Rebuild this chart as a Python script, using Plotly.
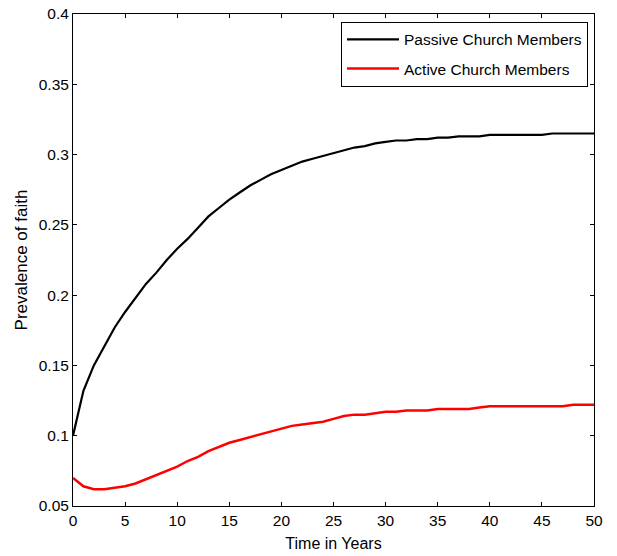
import plotly.graph_objects as go

# Simulation output, sampled once per year
years = list(range(0, 51))

passive_members = [
    0.100, 0.132, 0.150, 0.164, 0.177, 0.188, 0.198, 0.208, 0.216, 0.225,
    0.233, 0.240, 0.248, 0.256, 0.262, 0.268, 0.273, 0.278, 0.282, 0.286,
    0.289, 0.292, 0.295, 0.297, 0.299, 0.301, 0.303, 0.305, 0.306, 0.308,
    0.309, 0.310, 0.310, 0.311, 0.311, 0.312, 0.312, 0.313, 0.313, 0.313,
    0.314, 0.314, 0.314, 0.314, 0.314, 0.314, 0.315, 0.315, 0.315, 0.315,
    0.315,
]

active_members = [
    0.070, 0.064, 0.062, 0.062, 0.063, 0.064, 0.066, 0.069, 0.072, 0.075,
    0.078, 0.082, 0.085, 0.089, 0.092, 0.095, 0.097, 0.099, 0.101, 0.103,
    0.105, 0.107, 0.108, 0.109, 0.110, 0.112, 0.114, 0.115, 0.115, 0.116,
    0.117, 0.117, 0.118, 0.118, 0.118, 0.119, 0.119, 0.119, 0.119, 0.120,
    0.121, 0.121, 0.121, 0.121, 0.121, 0.121, 0.121, 0.121, 0.122, 0.122,
    0.122,
]

x_ticks = [0, 5, 10, 15, 20, 25, 30, 35, 40, 45, 50]
y_ticks = [0.05, 0.1, 0.15, 0.2, 0.25, 0.3, 0.35, 0.4]

FONT = "Arial, Liberation Sans, sans-serif"

fig = go.Figure()
fig.add_trace(go.Scatter(
    x=years, y=passive_members, mode="lines", name="Passive Church Members",
    line=dict(color="black", width=2.2), legendgroup="p",
))
fig.add_trace(go.Scatter(
    x=years, y=active_members, mode="lines", name="Active Church Members",
    line=dict(color="red", width=2.5), legendgroup="a",
))

axis_common = dict(
    showline=True, linecolor="black", linewidth=1, mirror="ticks",
    ticks="inside", ticklen=4, tickcolor="black", tickwidth=1,
    showgrid=False, zeroline=False, automargin=False,
    tickfont=dict(family=FONT, size=15.5, color="black"),
)

fig.update_xaxes(
    range=[0, 50], tickvals=x_ticks, ticktext=[str(v) for v in x_ticks],
    title=dict(text="Time in Years", font=dict(family=FONT, size=16, color="black"), standoff=10),
    **axis_common,
)
fig.update_yaxes(
    range=[0.05, 0.4], tickvals=y_ticks, ticktext=[f"{v:g}" for v in y_ticks],
    title=dict(text="Prevalence of faith", font=dict(family=FONT, size=17, color="black"), standoff=6),
    **axis_common,
)

fig.update_layout(
    width=617, height=556,
    margin=dict(l=73, r=23, t=14, b=50),
    paper_bgcolor="white", plot_bgcolor="white",
    showlegend=True,
    legend=dict(
        x=0.9885, y=0.984, xanchor="right", yanchor="top",
        bgcolor="white", bordercolor="black", borderwidth=1,
        font=dict(family=FONT, size=15.5, color="black"),
        itemwidth=52, tracegroupgap=6,
    ),
)

fig.write_html("out.html")
